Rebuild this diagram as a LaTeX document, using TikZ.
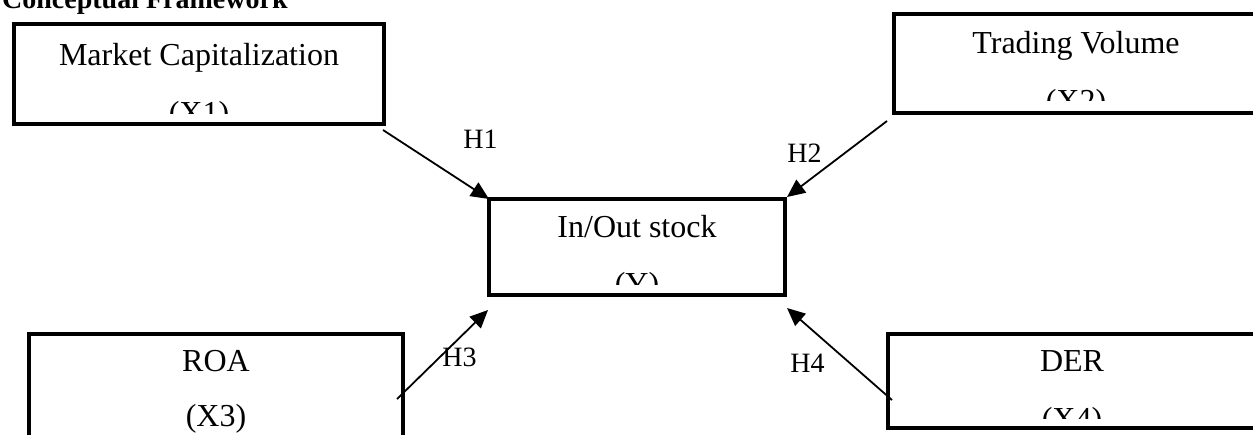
\documentclass[tikz,border=0pt]{standalone}
\usepackage{fontspec}
\setmainfont{Liberation Serif}
\usetikzlibrary{arrows.meta,calc}
\begin{document}
\begin{tikzpicture}[x=0.5pt,y=-0.5pt,
  box/.style={draw=black, line width=2pt, inner sep=0pt, outer sep=0pt},
  lbl/.style={font=\fontsize{16}{19}\selectfont, inner sep=0pt, anchor=base},
  hyp/.style={font=\fontsize{14}{17}\selectfont, inner sep=0pt, anchor=base west},
  link/.style={line width=0.9pt, -{Triangle[length=9pt,width=8pt]}}]
\useasboundingbox (0,0) rectangle (1253,434);
\clip (0,0) rectangle (1253,434);

% title
\node[font=\fontsize{14}{17}\selectfont\bfseries, inner sep=0pt, anchor=base east] (title) at (288,8) {Conceptual Framework};

% boxes
\node[box, minimum width=185pt, minimum height=50pt] (x1) at (199,74) {};
\node[box, minimum width=182pt, minimum height=49.5pt] (x2) at (1076,63.5) {};
\node[box, minimum width=148pt, minimum height=48pt] (y) at (637,247) {};
\node[box, minimum width=187pt, minimum height=52pt] (x3) at (216,386) {};
\node[box, minimum width=184pt, minimum height=47pt] (x4) at (1072,381) {};

% texts
\node[lbl] (t1a) at (199,65) {Market Capitalization};
\begin{scope}\clip (16,90) rectangle (382,113);
\node[lbl] (t1b) at (199,123) {(X1)};
\end{scope}
\node[lbl] (t2a) at (1076,53) {Trading Volume};
\begin{scope}\clip (896,80) rectangle (1256,100);
\node[lbl] (t2b) at (1076,111) {(X2)};
\end{scope}
\node[lbl] (tya) at (637,237) {In/Out stock};
\begin{scope}\clip (491,260) rectangle (783,284);
\node[lbl] (tyb) at (637,294) {(Y)};
\end{scope}
\node[lbl] (t3a) at (216,371) {ROA};
\node[lbl] (t3b) at (216,426) {(X3)};
\node[lbl] (t4a) at (1072,371) {DER};
\begin{scope}\clip (890,395) rectangle (1254,418);
\node[lbl] (t4b) at (1072,429) {(X4)};
\end{scope}

% connector end points
\coordinate (s1) at ($(x1.south east)+(-1,6)$);
\coordinate (s2) at ($(x2.south west)+(-7,8)$);
\coordinate (s3) at ($(x3.east)+(-6,13)$);
\coordinate (s4) at ($(x4.west)+(4,19)$);
\coordinate (e3) at ($(y.south west)+(-1,15)$);
\coordinate (e4) at ($(y.south east)+(2,13)$);

\draw[link] (s1) -- (y.north west);
\draw[link] (s2) -- ($(y.north east)+(2,-2)$);
\draw[link] (s3) -- (e3);
\draw[link] (s4) -- (e4);

% hypothesis labels
\node[hyp] (h1) at (463,148) {H1};
\node[hyp] (h2) at (787,162) {H2};
\node[hyp] (h3) at (442,366) {H3};
\node[hyp] (h4) at (790,372) {H4};
\end{tikzpicture}
\end{document}
